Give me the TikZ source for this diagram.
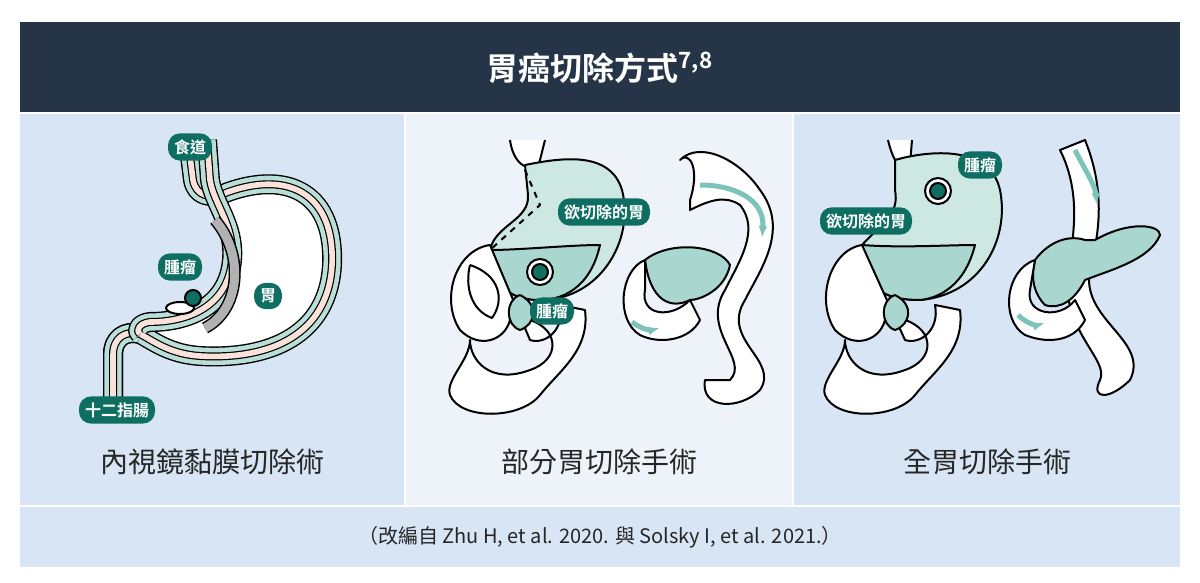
\documentclass[tikz,border=0pt]{standalone}
\usepackage{fontspec}
\setmainfont{Noto Sans CJK TC}
\newfontfamily\boldcjk{Noto Sans CJK TC Bold}
\usetikzlibrary{positioning,calc,arrows.meta}
\definecolor{headbg}{HTML}{253547}
\definecolor{panelA}{HTML}{D8E5F4}
\definecolor{panelB}{HTML}{EEF3FA}
\definecolor{tealdark}{HTML}{0E6E62}
\definecolor{teallight}{HTML}{CDE8E3}
\definecolor{tealmid}{HTML}{A9D6CF}
\definecolor{pinkish}{HTML}{F8E2DA}
\definecolor{arrowteal}{HTML}{7CC4BA}
\tikzset{
  pill/.style={fill=tealdark, text=white, rounded corners=6pt, inner sep=3pt, font=\boldcjk\fontsize{8}{9}\selectfont},
  caption/.style={font=\fontsize{14}{16}\selectfont, text=black!85},
  organ/.style={draw=black, line width=1pt, line join=round},
  gut/.style={organ, fill=white},
  flow/.style={arrowteal, line width=2.5pt, -{Latex[length=6pt]}},
  wall/.style={line join=round, line cap=butt},
}
\newcommand{\stomwall}[1]{%
  \draw[wall, black, line width=10pt] #1;
  \draw[wall, tealmid!80, line width=8.6pt] #1;
  \draw[wall, black, line width=4pt] #1;
  \draw[wall, pinkish, line width=2.8pt] #1;}
\begin{document}
\begin{tikzpicture}[x=0.5pt,y=-0.5pt]
\useasboundingbox (0,0) rectangle (1200,583);
% frame and panels
\fill[headbg] (20,22) rectangle (1180,112);
\fill[panelA] (20,114) rectangle (404,505);
\fill[panelB] (406,114) rectangle (792,505);
\fill[panelA] (794,114) rectangle (1180,505);
\fill[panelA] (20,507) rectangle (1180,567);
\node[text=white, font=\boldcjk\fontsize{16}{18}\selectfont] (title) at (600,68) {胃癌切除方式\textsuperscript{7,8}};
\node[caption] (capA) at (212,462) {內視鏡黏膜切除術};
\node[caption] (capB) at (599,462) {部分胃切除手術};
\node[caption] (capC) at (987,462) {全胃切除手術};
\node[font=\fontsize{10}{12}\selectfont, text=black!85] (source) at (600,537) {（改編自 Zhu H, et al. 2020. 與 Solsky I, et al. 2021.）};

% panel 1: stomach cross-section
\fill[white] (212,196) .. controls (260,176) and (335,190) .. (332,265)
  .. controls (328,335) and (270,360) .. (200,356) .. controls (170,354) and (155,342) .. (140,334)
  .. controls (170,318) and (215,318) .. (228,270) .. controls (235,240) and (220,215) .. (212,196) -- cycle;
\stomwall{(188,140) -- (193,180) .. controls (196,196) and (210,200) .. (228,192)
  .. controls (290,170) and (335,195) .. (332,265)
  .. controls (328,335) and (270,360) .. (200,356) .. controls (170,354) and (155,342) .. (140,334)
  .. controls (125,330) and (113,338) .. (113,355) -- (113,410)}
\stomwall{(113,410) -- (113,355) .. controls (113,338) and (125,330) .. (140,334)}
\stomwall{(207,140) -- (210,180) .. controls (214,205) and (235,225) .. (232,260)
  .. controls (228,305) and (190,322) .. (150,322) .. controls (140,323) and (135,330) .. (140,334)}
\draw[line width=6pt, black] (215,220) .. controls (245,255) and (240,310) .. (205,328);
\draw[line width=4.5pt, black!30] (215,220) .. controls (245,255) and (240,310) .. (205,328);
\draw[organ, fill=white] (180,308) ellipse (14 and 6);
\draw[organ, fill=tealdark] (193,298) circle (8);
\node[pill] (esoph) at (190,147) {食道};
\node[pill] (tumorA) at (180,267) {腫瘤};
\node[pill] (stomA) at (268,296) {胃};
\node[pill] (duod) at (117,410) {十二指腸};

% panel 2, left: stomach with resection zone
\draw[gut] (510,140) .. controls (515,175) and (540,170) .. (540,160) -- (545,140);
\draw[organ, fill=teallight] (525,165) .. controls (560,158) and (610,150) .. (622,190)
  .. controls (635,240) and (600,300) .. (540,300) .. controls (505,300) and (490,280) .. (490,250)
  .. controls (495,225) and (530,220) .. (528,195) -- cycle;
\draw[organ, fill=tealmid] (490,250) .. controls (520,250) and (570,245) .. (600,245)
  .. controls (590,290) and (560,300) .. (540,300) .. controls (505,300) and (490,280) .. (490,250) -- cycle;
\draw[gut] (490,245) .. controls (455,250) and (440,300) .. (460,330) .. controls (480,350) and (505,340) .. (510,320)
  -- (530,320) .. controls (560,330) and (560,360) .. (530,370) .. controls (490,385) and (470,360) .. (470,340)
  .. controls (470,360) and (445,380) .. (450,395) .. controls (460,420) and (520,420) .. (540,395)
  .. controls (560,370) and (590,350) .. (585,310) -- (560,305) .. controls (565,330) and (545,345) .. (530,340) -- cycle;
\draw[gut] (470,265) .. controls (465,285) and (470,310) .. (492,318) .. controls (505,300) and (500,275) .. (470,265);
\draw[organ, fill=tealmid] (520,295) .. controls (505,300) and (505,325) .. (520,330) .. controls (535,325) and (540,305) .. (520,295);
\draw[organ, fill=white] (540,272) circle (13);
\draw[organ, fill=tealdark] (540,272) circle (8);
\draw[organ, dashed] (525,170) -- (540,205) -- (490,250);
\node[pill] (cutB) at (604,212) {欲切除的胃};
\node[pill] (tumorB) at (552,311) {腫瘤};
% panel 2, right: reconstruction
\draw[gut] (690,200) .. controls (700,170) and (690,150) .. (680,160) .. controls (700,140) and (740,160) .. (760,190)
  .. controls (790,230) and (760,270) .. (745,300) .. controls (720,340) and (780,360) .. (760,390)
  .. controls (740,410) and (700,410) .. (705,380) -- (730,380) .. controls (750,360) and (700,330) .. (725,290)
  .. controls (740,260) and (760,230) .. (740,205) .. controls (725,195) and (710,200) .. (690,210) -- cycle;
\draw[organ, fill=tealmid] (645,260) .. controls (670,240) and (720,245) .. (730,265)
  .. controls (725,290) and (700,300) .. (690,300) .. controls (670,310) and (650,300) .. (645,260) -- cycle;
\draw[gut] (645,260) .. controls (620,270) and (615,320) .. (640,335) .. controls (660,345) and (690,340) .. (700,320)
  -- (690,300) .. controls (670,320) and (640,315) .. (645,290) -- cycle;
\draw[flow] (700,185) .. controls (735,185) and (765,200) .. (762,238);
\draw[flow] (632,322) .. controls (642,330) and (652,330) .. (660,328);

% panel 3, left: whole stomach marked
\draw[gut] (888,140) .. controls (895,170) and (905,170) .. (910,165) -- (912,140);
\draw[organ, fill=teallight] (895,160) .. controls (930,150) and (990,145) .. (1000,190)
  .. controls (1010,240) and (980,295) .. (920,300) .. controls (875,300) and (860,280) .. (862,245)
  .. controls (880,225) and (900,215) .. (895,190) -- cycle;
\draw[organ, fill=tealmid] (862,245) .. controls (900,248) and (950,245) .. (975,245)
  .. controls (965,285) and (940,298) .. (920,300) .. controls (875,300) and (860,280) .. (862,245) -- cycle;
\draw[gut] (862,245) .. controls (830,250) and (815,300) .. (835,330) .. controls (855,350) and (880,340) .. (885,320)
  -- (905,320) .. controls (935,330) and (935,360) .. (905,370) .. controls (865,385) and (845,360) .. (845,340)
  .. controls (845,360) and (820,380) .. (825,395) .. controls (835,420) and (895,420) .. (915,395)
  .. controls (935,370) and (965,350) .. (960,310) -- (935,305) .. controls (940,330) and (920,345) .. (905,340) -- cycle;
\draw[organ, fill=tealmid] (895,295) .. controls (880,300) and (880,325) .. (895,330) .. controls (910,325) and (915,305) .. (895,295);
\draw[organ, fill=white] (938,191) circle (13);
\draw[organ, fill=tealdark] (938,191) circle (8);
\node[pill] (tumorC) at (980,165) {腫瘤};
\node[pill] (cutC) at (866,221) {欲切除的胃};
% panel 3, right: reconstruction
\draw[gut] (1060,150) -- (1085,140) .. controls (1105,190) and (1100,230) .. (1090,270)
  .. controls (1080,320) and (1150,340) .. (1130,380) .. controls (1110,400) and (1090,400) .. (1100,380)
  .. controls (1110,360) and (1060,330) .. (1068,270) .. controls (1075,230) and (1080,190) .. (1060,150) -- cycle;
\draw[organ, fill=tealmid] (1035,260) .. controls (1050,240) and (1070,235) .. (1085,240)
  -- (1095,240) .. controls (1130,220) and (1160,225) .. (1160,235) .. controls (1150,260) and (1110,270) .. (1085,280)
  .. controls (1075,300) and (1060,310) .. (1045,305) .. controls (1035,295) and (1030,280) .. (1035,260) -- cycle;
\draw[gut] (1035,260) .. controls (1005,270) and (1000,320) .. (1025,335) .. controls (1050,345) and (1075,340) .. (1085,320)
  -- (1075,300) .. controls (1060,320) and (1025,315) .. (1030,290) -- cycle;
\draw[flow] (1075,150) .. controls (1085,170) and (1095,185) .. (1097,205);
\draw[flow] (1018,315) .. controls (1028,325) and (1038,325) .. (1045,323);
\end{tikzpicture}
\end{document}
